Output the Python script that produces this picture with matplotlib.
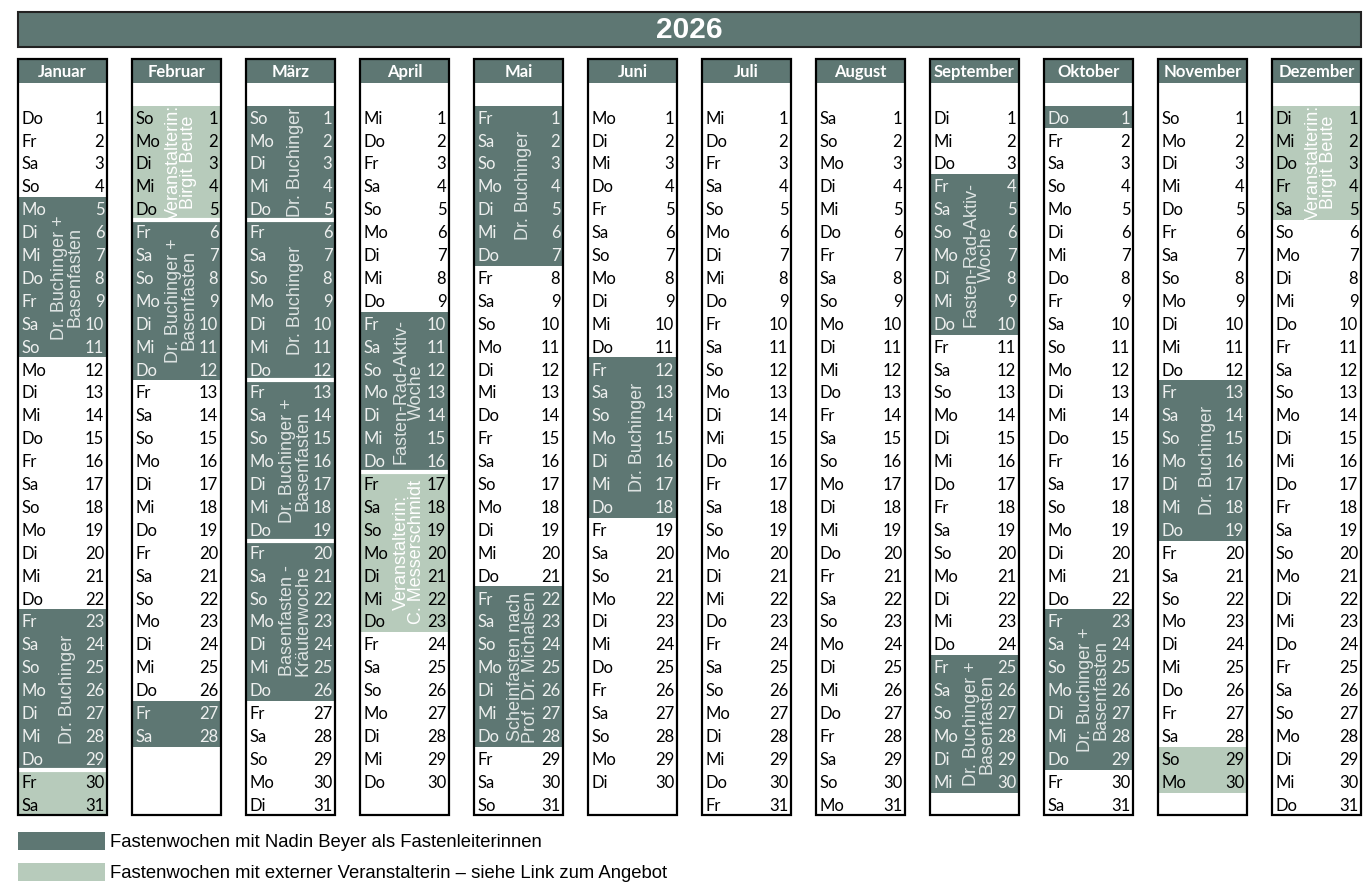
import datetime
import matplotlib
matplotlib.use("Agg")
import matplotlib.pyplot as plt
from matplotlib.patches import Patch

YEAR = 2026
MONTHS = ["Januar", "Februar", "März", "April", "Mai", "Juni",
          "Juli", "August", "September", "Oktober", "November", "Dezember"]
DAYS_IN_MONTH = [31, 28, 31, 30, 31, 30, 31, 31, 30, 31, 30, 31]
DAY_ABBR = ["Mo", "Di", "Mi", "Do", "Fr", "Sa", "So"]

# fasting weeks: month index (0 = Januar), first day, last day, kind, label
EVENT_MONTH = [0, 0, 0, 1, 1, 1, 2, 2, 2, 2, 3, 3, 4, 4, 5, 8, 8, 9, 9, 10, 10, 11]
EVENT_START = [5, 23, 30, 1, 6, 27, 1, 6, 13, 20, 10, 17, 1, 22, 12, 4, 25, 1, 23, 13, 29, 1]
EVENT_END = [11, 29, 31, 5, 12, 28, 5, 12, 19, 26, 16, 23, 7, 28, 18, 10, 30, 1, 29, 19, 30, 5]
EVENT_KIND = ["own", "own", "ext", "ext", "own", "own", "own", "own", "own", "own", "own",
              "ext", "own", "own", "own", "own", "own", "own", "own", "own", "ext", "ext"]
EVENT_LABEL = [
    "Dr. Buchinger +\nBasenfasten", "Dr. Buchinger", "",
    "Veranstalterin:\nBirgit Beute", "Dr. Buchinger +\nBasenfasten", "",
    "Dr. Buchinger", "Dr. Buchinger", "Dr. Buchinger +\nBasenfasten",
    "Basenfasten -\nKräuterwoche",
    "Fasten-Rad-Aktiv-\nWoche", "Veranstalterin:\nC. Messerschmidt",
    "Dr. Buchinger", "Scheinfasten nach\nProf. Dr. Michalsen",
    "Dr. Buchinger",
    "Fasten-Rad-Aktiv-\nWoche", "Dr. Buchinger +\nBasenfasten",
    "", "Dr. Buchinger +\nBasenfasten",
    "Dr. Buchinger", "", "Veranstalterin:\nBirgit Beute",
]

LEGEND_LABELS = ["Fastenwochen mit Nadin Beyer als Fastenleiterinnen",
                 "Fastenwochen mit externer Veranstalterin – siehe Link zum Angebot"]

DARK = "#5e7773"
LIGHT = "#b7cbbb"
FILL = {"own": DARK, "ext": LIGHT}
COL_W = 0.781

fig = plt.figure(figsize=(13.72, 8.96), dpi=100)
ax = fig.add_axes([0, 0, 1, 1])
ax.set_xlim(-18 / 114, 1354 / 114)
ax.set_ylim(1 + 779 / 22.9, 1 - 117 / 22.9)
ax.axis("off")

month_x = list(range(len(MONTHS)))

# title bar
ax.bar(0, 1.52, bottom=-3.58, width=11 + COL_W, align="edge",
       color=DARK, edgecolor="#222222", linewidth=1.5, zorder=2)
ax.text((11 + COL_W) / 2, -2.78, str(YEAR), ha="center", va="center",
        color="white", fontsize=21.5, fontweight="bold", family="Liberation Sans")

# month headers
ax.bar(month_x, 1.05, bottom=-1.55, width=COL_W, align="edge", color=DARK, zorder=2)
for i, name in enumerate(MONTHS):
    ax.text(i + COL_W / 2, -0.98, name, ha="center", va="center", color="white",
            fontsize=12, fontweight="bold", family="Lato", zorder=4)

# event fills
lookup = {}
for m, s, e, k, lab in zip(EVENT_MONTH, EVENT_START, EVENT_END, EVENT_KIND, EVENT_LABEL):
    ax.bar(m, e - s + 1, bottom=s - 0.5, width=COL_W, align="edge", color=FILL[k], zorder=2)
    for d in range(s, e + 1):
        lookup[(m, d)] = k
    if lab:
        ax.text(m + 0.43, (s + e) / 2, lab, rotation=90, ha="center", va="center",
                multialignment="center", linespacing=0.9, fontsize=13,
                family="Liberation Sans",
                color="#dde3e2" if k == "own" else "white", zorder=4)

# white separators between adjacent weeks
for m, s in zip(EVENT_MONTH, EVENT_START):
    if (m, s - 1) in lookup:
        ax.hlines(s - 0.5, m, m + COL_W, color="white", linewidth=3, zorder=3)

# day rows
for i, ndays in enumerate(DAYS_IN_MONTH):
    for d in range(1, ndays + 1):
        wd = DAY_ABBR[datetime.date(YEAR, i + 1, d).weekday()]
        k = lookup.get((i, d))
        c = "#eef0ef" if k == "own" else "black"
        ax.text(i + 0.035, d + 0.07, wd, ha="left", va="center", color=c,
                fontsize=12, family="Lato", zorder=4)
        ax.text(i + 0.757, d + 0.07, str(d), ha="right", va="center", color=c,
                fontsize=12, family="Lato", zorder=4)

# column outlines
ax.bar(month_x, 33.05, bottom=-1.55, width=COL_W, align="edge", fill=False,
       edgecolor="black", linewidth=1.6, zorder=5)

handles = [Patch(facecolor=DARK, edgecolor="none"), Patch(facecolor=LIGHT, edgecolor="none")]
ax.legend(handles, LEGEND_LABELS, loc="upper left", bbox_to_anchor=(18 / 1372, 1 - 832 / 896),
          frameon=False, prop={"family": "Liberation Sans", "size": 13.3},
          handlelength=4.7, handleheight=1.15, handletextpad=0.27, labelspacing=0.62,
          borderpad=0, borderaxespad=0)

fig.savefig("out.png", dpi=100)
